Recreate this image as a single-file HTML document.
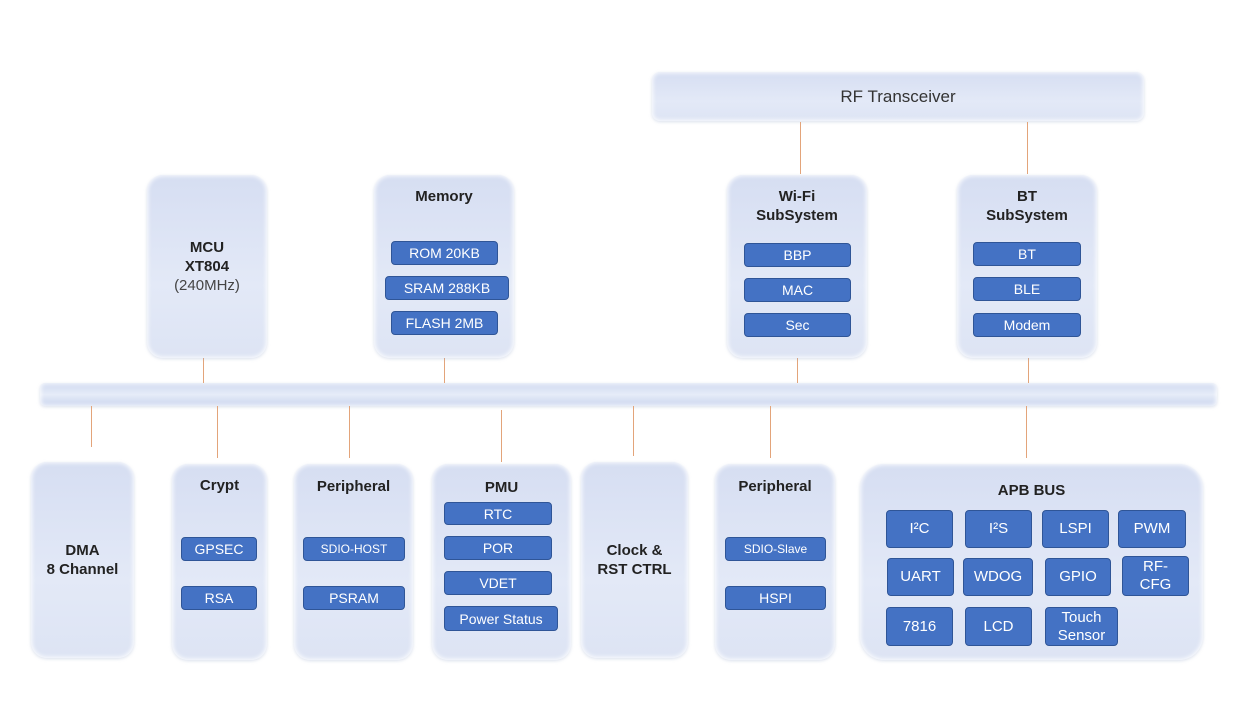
<!DOCTYPE html>
<html><head><meta charset="utf-8"><style>
body{margin:0;width:1254px;height:712px;background:#fff;position:relative;overflow:hidden;font-family:"Liberation Sans",sans-serif}
.b{position:absolute;border-radius:16px;background:linear-gradient(180deg,#d6def2 0%,#e3e9f7 60%,#dde4f4 100%);box-shadow:0 0 4px 1px rgba(255,255,255,.9) inset,0 1px 3px rgba(150,165,200,.35)}
.t{position:absolute;left:0;right:0;text-align:center;color:#222;font-weight:bold;font-size:15px;line-height:19px}
.c{position:absolute;background:#4472c4;border:1px solid #2f5597;border-radius:4px;color:#fff;font-size:14px;display:flex;align-items:center;justify-content:center;text-align:center;line-height:18px;box-sizing:border-box}
.l{position:absolute;width:1px;background:#e3a47a}
</style></head><body>
<div class="b" style="left:652px;top:72px;width:492px;height:49px;border-radius:8px"><div class="t" style="top:15px;font-weight:normal;font-size:17px;color:#333">RF Transceiver</div></div>
<div class="b" style="left:40px;top:383px;width:1177px;height:23px;border-radius:5px;background:linear-gradient(180deg,#cfd9f0,#e6ecf8 50%,#c9d4ee)"></div>

<div class="l" style="left:800px;top:122px;height:52px"></div>
<div class="l" style="left:1027px;top:122px;height:52px"></div>
<div class="l" style="left:203px;top:358px;height:25px"></div>
<div class="l" style="left:444px;top:358px;height:25px"></div>
<div class="l" style="left:797px;top:358px;height:25px"></div>
<div class="l" style="left:1028px;top:358px;height:25px"></div>
<div class="l" style="left:91px;top:406px;height:41px"></div>
<div class="l" style="left:217px;top:406px;height:52px"></div>
<div class="l" style="left:349px;top:406px;height:52px"></div>
<div class="l" style="left:501px;top:410px;height:52px"></div>
<div class="l" style="left:633px;top:406px;height:50px"></div>
<div class="l" style="left:770px;top:406px;height:52px"></div>
<div class="l" style="left:1026px;top:406px;height:52px"></div>

<div class="b" style="left:147px;top:175px;width:120px;height:183px"><div class="t" style="top:63px">MCU<br>XT804<br><span style="font-weight:normal;color:#444">(240MHz)</span></div></div>
<div class="b" style="left:374px;top:175px;width:140px;height:183px"><div class="t" style="top:12px">Memory</div></div>
<div class="c" style="left:391px;top:241px;width:107px;height:24px">ROM 20KB</div>
<div class="c" style="left:385px;top:276px;width:124px;height:24px">SRAM 288KB</div>
<div class="c" style="left:391px;top:311px;width:107px;height:24px">FLASH 2MB</div>

<div class="b" style="left:727px;top:175px;width:140px;height:183px"><div class="t" style="top:12px">Wi-Fi<br>SubSystem</div></div>
<div class="c" style="left:744px;top:243px;width:107px;height:24px">BBP</div>
<div class="c" style="left:744px;top:278px;width:107px;height:24px">MAC</div>
<div class="c" style="left:744px;top:313px;width:107px;height:24px">Sec</div>

<div class="b" style="left:957px;top:175px;width:140px;height:183px"><div class="t" style="top:12px">BT<br>SubSystem</div></div>
<div class="c" style="left:973px;top:242px;width:108px;height:24px">BT</div>
<div class="c" style="left:973px;top:277px;width:108px;height:24px">BLE</div>
<div class="c" style="left:973px;top:313px;width:108px;height:24px">Modem</div>

<div class="b" style="left:31px;top:462px;width:103px;height:196px"><div class="t" style="top:79px">DMA<br>8 Channel</div></div>
<div class="b" style="left:172px;top:464px;width:95px;height:196px"><div class="t" style="top:12px">Crypt</div></div>
<div class="c" style="left:181px;top:537px;width:76px;height:24px">GPSEC</div>
<div class="c" style="left:181px;top:586px;width:76px;height:24px">RSA</div>

<div class="b" style="left:294px;top:464px;width:119px;height:196px"><div class="t" style="top:13px">Peripheral</div></div>
<div class="c" style="left:303px;top:537px;width:102px;height:24px;font-size:12px">SDIO-HOST</div>
<div class="c" style="left:303px;top:586px;width:102px;height:24px">PSRAM</div>

<div class="b" style="left:432px;top:464px;width:139px;height:196px"><div class="t" style="top:14px">PMU</div></div>
<div class="c" style="left:444px;top:502px;width:108px;height:23px">RTC</div>
<div class="c" style="left:444px;top:536px;width:108px;height:24px">POR</div>
<div class="c" style="left:444px;top:571px;width:108px;height:24px">VDET</div>
<div class="c" style="left:444px;top:606px;width:114px;height:25px">Power Status</div>

<div class="b" style="left:581px;top:462px;width:107px;height:196px"><div class="t" style="top:79px">Clock &amp;<br>RST CTRL</div></div>

<div class="b" style="left:715px;top:464px;width:120px;height:196px"><div class="t" style="top:13px">Peripheral</div></div>
<div class="c" style="left:725px;top:537px;width:101px;height:24px;font-size:12px">SDIO-Slave</div>
<div class="c" style="left:725px;top:586px;width:101px;height:24px">HSPI</div>

<div class="b" style="left:860px;top:464px;width:343px;height:196px;border-radius:24px"><div class="t" style="top:17px">APB BUS</div></div>
<div class="c" style="left:886px;top:510px;width:67px;height:38px;font-size:15px">I²C</div>
<div class="c" style="left:965px;top:510px;width:67px;height:38px;font-size:15px">I²S</div>
<div class="c" style="left:1042px;top:510px;width:67px;height:38px;font-size:15px">LSPI</div>
<div class="c" style="left:1118px;top:510px;width:68px;height:38px;font-size:15px">PWM</div>
<div class="c" style="left:887px;top:558px;width:67px;height:38px;font-size:15px">UART</div>
<div class="c" style="left:963px;top:558px;width:70px;height:38px;font-size:15px">WDOG</div>
<div class="c" style="left:1045px;top:558px;width:66px;height:38px;font-size:15px">GPIO</div>
<div class="c" style="left:1122px;top:556px;width:67px;height:40px;font-size:15px">RF-<br>CFG</div>
<div class="c" style="left:886px;top:607px;width:67px;height:39px;font-size:15px">7816</div>
<div class="c" style="left:965px;top:607px;width:67px;height:39px;font-size:15px">LCD</div>
<div class="c" style="left:1045px;top:607px;width:73px;height:39px;font-size:15px">Touch<br>Sensor</div>
</body></html>
